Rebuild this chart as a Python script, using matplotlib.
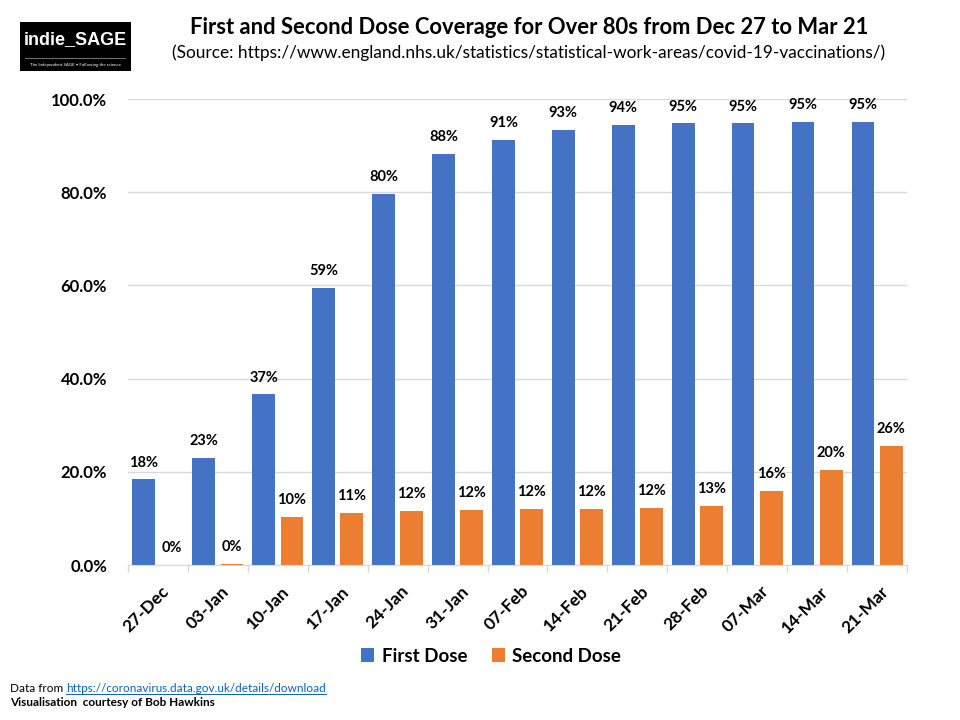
import matplotlib
matplotlib.use("Agg")
import matplotlib.pyplot as plt
from matplotlib.patches import Rectangle
import matplotlib.transforms as mtransforms
import numpy as np

dates = ["27-Dec", "03-Jan", "10-Jan", "17-Jan", "24-Jan", "31-Jan", "07-Feb",
         "14-Feb", "21-Feb", "28-Feb", "07-Mar", "14-Mar", "21-Mar"]
first_dose = [18.4, 23.0, 36.6, 59.4, 79.6, 88.2, 91.2, 93.4, 94.4, 94.8, 94.8, 95.1, 95.1]
second_dose = [0.0, 0.3, 10.3, 11.2, 11.6, 11.8, 12.0, 12.0, 12.2, 12.7, 15.9, 20.4, 25.6]
yticks = [0, 20, 40, 60, 80, 100]

FONT = ["Lato", "DejaVu Sans"]
plt.rcParams["font.family"] = FONT

BLUE = "#4472C4"
ORANGE = "#ED7D31"
GRID = "#D9D9D9"

fig = plt.figure(figsize=(9.6, 7.2), dpi=100)
ax = fig.add_axes([128/960, 1-565/720, (907-128)/960, (565-99)/720])

x = np.arange(len(dates))
w = 0.38
off = 0.235
b1 = ax.bar(x - off, first_dose, w, color=BLUE, label="First Dose", zorder=3)
b2 = ax.bar(x + off, second_dose, w, color=ORANGE, label="Second Dose", zorder=3)

for bars, vals in ((b1, first_dose), (b2, second_dose)):
    for rect, v in zip(bars, vals):
        ax.annotate(f"{v:.0f}%", (rect.get_x() + rect.get_width()/2, v),
                    xytext=(0, 7), textcoords="offset points", ha="center", va="bottom",
                    fontsize=10.5, fontweight="bold", color="#000000")

ax.set_xlim(-0.5, len(dates) - 0.5)
ax.set_ylim(0, 100)
ax.set_yticks(yticks)
ax.set_yticklabels([f"{t:.1f}%" for t in yticks], fontsize=12, fontweight="bold")
ax.yaxis.grid(True, color=GRID, linewidth=1, zorder=0)
ax.tick_params(axis="y", length=0, pad=15)

ax.set_xticks(x)
ax.set_xticklabels(dates, rotation=45, ha="right", rotation_mode="anchor",
                   fontsize=12.5, fontweight="bold")
ax.tick_params(axis="x", which="major", length=0, pad=13)
ax.set_xticks(np.arange(-0.5, len(dates)), minor=True)
ax.tick_params(axis="x", which="minor", length=5, color=GRID, width=1)
shift = mtransforms.ScaledTranslation(3/100, 0, fig.dpi_scale_trans)
for lab in ax.get_xticklabels():
    lab.set_transform(lab.get_transform() + shift)

for s in ["top", "right", "left"]:
    ax.spines[s].set_visible(False)
ax.spines["bottom"].set_color(GRID)
ax.spines["bottom"].set_zorder(4)

leg = fig.legend(handles=[b1, b2], labels=["First Dose", "Second Dose"],
                 loc="center", bbox_to_anchor=(491/960, 1-656/720), ncol=2,
                 frameon=False, prop={"family": FONT, "size": 13.5, "weight": "bold"},
                 handlelength=0.7, handleheight=0.7, columnspacing=1.3, handletextpad=0.4)

# Title
fig.text(529/960, 1-27/720, "First and Second Dose Coverage for Over 80s from Dec 27 to Mar 21",
         ha="center", va="center", fontsize=15.8, fontweight="bold")
fig.text(529/960, 1-53/720,
         "(Source: https://www.england.nhs.uk/statistics/statistical-work-areas/covid-19-vaccinations/)",
         ha="center", va="center", fontsize=12.4)

# Logo
fig.patches.append(Rectangle((20/960, 1-71/720), 111/960, 49/720, transform=fig.transFigure,
                             facecolor="#000000", edgecolor="none"))
fig.text(75/960, 1-40/720, "indie_SAGE", ha="center", va="center", color="white",
         fontsize=13, fontweight="bold", family=["Liberation Sans"])
fig.lines.append(plt.Line2D([25/960, 125/960], [1-58/720, 1-58/720], transform=fig.transFigure,
                            color="#888888", linewidth=0.6))
fig.text(75/960, 1-65/720, "The Independent SAGE \u2022 Following the science", ha="center",
         va="center", color="white", fontsize=3.2)

# Footnotes
t1 = fig.text(10/960, 1-688/720, "Data from ", ha="left", va="center", fontsize=8.5)
fig.canvas.draw()
bb = t1.get_window_extent()
t2 = fig.text(bb.x1/960, 1-688/720, "https://coronavirus.data.gov.uk/details/download", ha="left",
              va="center", fontsize=8.5, color="#0563C1")
fig.canvas.draw()
bb2 = t2.get_window_extent()
fig.lines.append(plt.Line2D([bb2.x0/960, bb2.x1/960], [1-694/720, 1-694/720],
                            transform=fig.transFigure, color="#0563C1", linewidth=0.7))
fig.text(10/960, 1-703/720, "Visualisation  courtesy of Bob Hawkins", ha="left", va="center",
         fontsize=8.5, fontweight="bold")

fig.savefig("out.png", dpi=100)
